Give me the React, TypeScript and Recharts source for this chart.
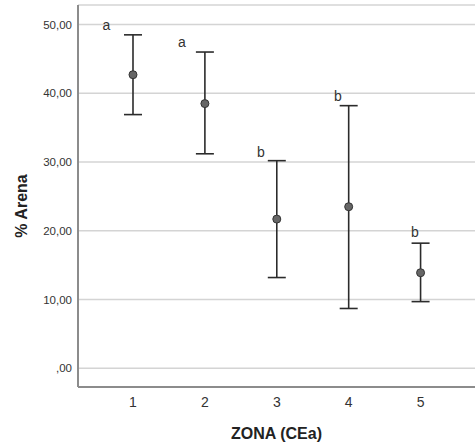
import { ComposedChart, Scatter, ErrorBar, XAxis, YAxis, CartesianGrid } from 'recharts';

// Mean % Arena per zone with 95% CI bounds and group letters
const ZONES = [1, 2, 3, 4, 5];
const MEANS = [42.7, 38.5, 21.7, 23.5, 13.9];
const LOWER = [36.9, 31.2, 13.2, 8.7, 9.7];
const UPPER = [48.5, 46.0, 30.2, 38.2, 18.2];
const LETTERS = ['a', 'a', 'b', 'b', 'b'];
const LETTER_X = [0.63, 1.68, 2.78, 3.85, 4.92];
const LETTER_Y = [50.0, 47.5, 31.5, 39.6, 19.8];
const Y_TICKS = [0, 10, 20, 30, 40, 50];
const X_TICKS = [1, 2, 3, 4, 5];

const FONT = '"Liberation Sans", Arial, sans-serif';

const points = ZONES.map((z, i) => ({
  zone: z,
  mean: MEANS[i],
  ci: [MEANS[i] - LOWER[i], UPPER[i] - MEANS[i]],
}));

const letters = LETTERS.map((l, i) => ({ zone: LETTER_X[i], mean: LETTER_Y[i], letter: l }));

const fmt = (v: number) => {
  const s = v.toFixed(2).replace('.', ',');
  return s.startsWith('0,') ? s.slice(1) : s;
};

function Dot(props: any) {
  const { cx, cy } = props;
  return <circle cx={cx} cy={cy} r={4} fill="#666" stroke="#333" strokeWidth={1} />;
}

function Letter(props: any) {
  const { cx, cy, payload } = props;
  return (
    <text x={cx} y={cy} textAnchor="middle" dominantBaseline="central" fontSize={14} fill="#333" fontFamily={FONT}>
      {payload.letter}
    </text>
  );
}

function YTitle(props: any) {
  const vb = props.viewBox || {};
  const x = 21;
  const y = (vb.y ?? 5) + 201;
  return (
    <text x={x} y={y} transform={`rotate(-90 ${x} ${y})`} textAnchor="middle" dominantBaseline="central"
      fontSize={16} fontWeight="bold" fill="#222" fontFamily={FONT}>
      % Arena
    </text>
  );
}

export default function App() {
  return (
    <div style={{ position: 'absolute', left: 0, top: 0, width: 475, height: 447, background: '#fff' }}>
      <ComposedChart width={475} height={447} margin={{ top: 5, right: 0, bottom: 0, left: 0 }} style={{ fontFamily: FONT }}>
        <CartesianGrid vertical={false} stroke="#d4d4d4" strokeWidth={1.5} />
        <XAxis
          type="number"
          dataKey="zone"
          domain={[0.235, 5.757]}
          ticks={X_TICKS}
          allowDataOverflow
          height={60}
          tickLine={false}
          tickSize={6}
          tickMargin={4}
          axisLine={{ stroke: '#8c8c8c', strokeWidth: 2 }}
          tick={{ fill: '#333', fontSize: 14 }}
          label={{ value: 'ZONA (CEa)', position: 'insideBottom', offset: 8, fontSize: 16, fontWeight: 'bold', fill: '#222' }}
        />
        <YAxis
          type="number"
          dataKey="mean"
          domain={[-2.72, 52.84]}
          ticks={Y_TICKS}
          allowDataOverflow
          width={78}
          tickLine={false}
          tickSize={6}
          tickMargin={0}
          axisLine={{ stroke: '#8c8c8c', strokeWidth: 2 }}
          tick={{ fill: '#333', fontSize: 11.5 }}
          tickFormatter={fmt}
          label={<YTitle />}
        />
        <Scatter data={points} shape={<Dot />} isAnimationActive={false}>
          <ErrorBar dataKey="ci" direction="y" width={9} stroke="#2b2b2b" strokeWidth={1.6} />
        </Scatter>
        <Scatter data={letters} shape={<Letter />} isAnimationActive={false} />
      </ComposedChart>
    </div>
  );
}
